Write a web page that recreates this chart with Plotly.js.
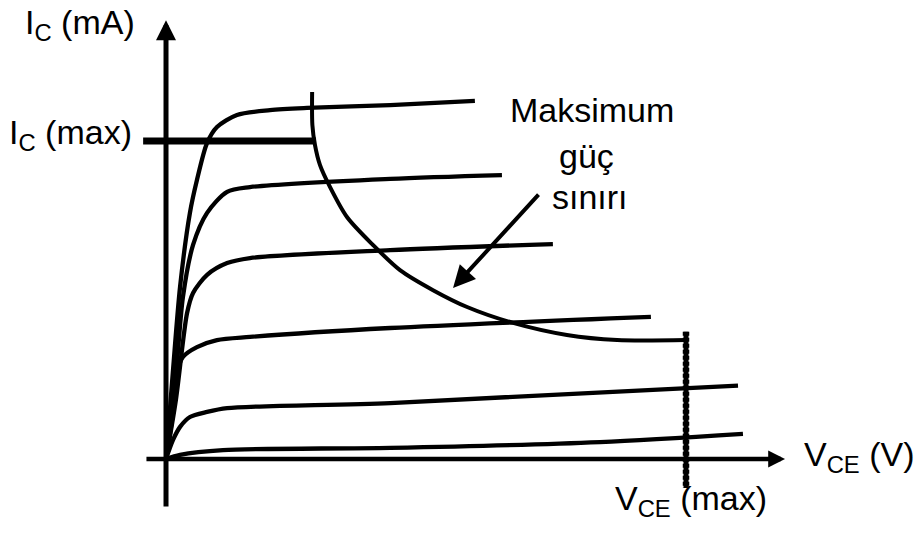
<!DOCTYPE html>
<html>
<head>
<meta charset="utf-8">
<script src="https://cdn.plot.ly/plotly-3.0.1.min.js"></script>
<style>html,body{margin:0;padding:0;background:#fff;}#chart{width:916px;height:537px;}</style>
</head>
<body>
<div id="chart"></div>
<script>
// Collector-characteristic curves (V_CE in V, I_C in mA)
const curve1V = [0, 0.27, 0.54, 0.92, 1.19, 1.58, 1.96, 2.73, 4.0, 5.42, 8.62, 11.88];
const curve1I = [0, 2.80, 5.41, 7.74, 8.77, 9.94, 10.44, 10.82, 10.97, 11.04, 11.13, 11.26];
const curve2V = [0, 0.35, 0.65, 1.04, 1.58, 2.35, 3.23, 8.62, 12.92];
const curve2I = [0, 2.33, 5.09, 6.73, 7.74, 8.40, 8.55, 8.81, 8.93];
const curve3V = [0, 0.38, 0.81, 1.04, 1.58, 2.35, 3.23, 8.62, 14.88];
const curve3I = [0, 1.86, 4.59, 5.22, 5.79, 6.16, 6.32, 6.57, 6.76];
const curve4V = [0, 0.23, 0.42, 0.65, 1.19, 1.96, 3.23, 8.62, 18.65];
const curve4I = [0, 1.23, 2.70, 3.21, 3.52, 3.74, 3.84, 4.12, 4.47];
const curve5V = [0, 0.27, 0.54, 0.92, 1.58, 2.35, 8.62, 22.0];
const curve5I = [0, 0.60, 1.01, 1.32, 1.48, 1.60, 1.76, 2.31];
const curve6V = [0, 0.54, 2.19, 8.62, 16.69, 22.19];
const curve6I = [0, 0.13, 0.28, 0.35, 0.53, 0.79];

// Maximum power limit curve
const powerV = [5.62, 5.63, 5.73, 5.92, 6.31, 6.96, 7.96, 9.0, 10.27, 11.58, 13.35, 15.42, 17.35, 20.0];
const powerI = [11.54, 10.50, 9.87, 9.25, 8.55, 7.61, 6.73, 5.94, 5.31, 4.78, 4.28, 3.90, 3.74, 3.74];

// Limits
const icMax = 10;
const icMaxLineV = [-0.88, 5.77];
const vceMax = 20;
const vceMaxLineI = [4.0, -0.91];

// Axes extents
const xAxisV = [-0.81, 23.81];
const yAxisI = [-1.54, 13.8];

// Labels
const labelIc = 'I<sub>C</sub>\u00a0(mA)';
const labelIcMax = 'I<sub>C</sub>\u00a0(max)';
const labelVce = 'V<sub>CE</sub>\u00a0(V)';
const labelVceMax = 'V<sub>CE</sub>\u00a0(max)';
const noteLines = ['Maksimum', 'güç', 'sınırı'];

const black = '#000';
const FONT = 'Liberation Sans, Arial, sans-serif';

const curveSets = [
  [curve1V, curve1I], [curve2V, curve2I], [curve3V, curve3I],
  [curve4V, curve4I], [curve5V, curve5I], [curve6V, curve6I]
];

const traces = curveSets.map(([v, i]) => ({
  x: v, y: i, mode: 'lines', type: 'scatter', hoverinfo: 'skip',
  line: {color: black, width: 4.3, shape: 'spline', smoothing: 0.8}
}));

traces.push({
  x: powerV, y: powerI, mode: 'lines', type: 'scatter', hoverinfo: 'skip',
  line: {color: black, width: 4, shape: 'spline', smoothing: 0.8}
});
traces.push({
  x: icMaxLineV, y: [icMax, icMax], mode: 'lines', type: 'scatter', hoverinfo: 'skip',
  line: {color: black, width: 7}
});
traces.push({
  x: [vceMax, vceMax], y: vceMaxLineI, mode: 'lines', type: 'scatter', hoverinfo: 'skip',
  line: {color: black, width: 5}
});
traces.push({
  x: [vceMax, vceMax], y: vceMaxLineI, mode: 'lines', type: 'scatter', hoverinfo: 'skip',
  line: {color: black, width: 6.5, dash: '4px,2px'}
});

const textFont = {family: FONT, size: 34, color: black};

const annotations = [
  // axes arrows
  {x: 0, y: yAxisI[1], ax: 0, ay: yAxisI[0], xref: 'x', yref: 'y', axref: 'x', ayref: 'y',
   text: '', showarrow: true, arrowhead: 2, arrowwidth: 5, arrowsize: 0.8, arrowcolor: black, standoff: 0, startstandoff: 0},
  {x: xAxisV[1], y: 0, ax: xAxisV[0], ay: 0, xref: 'x', yref: 'y', axref: 'x', ayref: 'y',
   text: '', showarrow: true, arrowhead: 2, arrowwidth: 4.5, arrowsize: 0.75, arrowcolor: black, standoff: 0, startstandoff: 0},
  // pointer arrow
  {x: 11.04, y: 5.38, ax: 14.38, ay: 8.36, xref: 'x', yref: 'y', axref: 'x', ayref: 'y',
   text: '', showarrow: true, arrowhead: 2, arrowwidth: 4, arrowsize: 1.1, arrowcolor: black, standoff: 0, startstandoff: 0},
  // labels
  {x: -5.5, y: 13.65, xref: 'x', yref: 'y', text: labelIc, showarrow: false, xanchor: 'left', yanchor: 'middle', font: textFont},
  {x: -6.12, y: 10.19, xref: 'x', yref: 'y', text: labelIcMax, showarrow: false, xanchor: 'left', yanchor: 'middle', font: textFont},
  {x: 24.46, y: 0.09, xref: 'x', yref: 'y', text: labelVce, showarrow: false, xanchor: 'left', yanchor: 'middle', font: textFont},
  {x: 17.19, y: -1.32, xref: 'x', yref: 'y', text: labelVceMax, showarrow: false, xanchor: 'left', yanchor: 'middle', font: textFont},
  {x: 16.38, y: 10.97, xref: 'x', yref: 'y', text: noteLines[0], showarrow: false, xanchor: 'center', yanchor: 'middle', font: textFont},
  {x: 16.19, y: 9.53, xref: 'x', yref: 'y', text: noteLines[1], showarrow: false, xanchor: 'center', yanchor: 'middle', font: textFont},
  {x: 16.31, y: 8.25, xref: 'x', yref: 'y', text: noteLines[2], showarrow: false, xanchor: 'center', yanchor: 'middle', font: textFont}
];

const layout = {
  width: 916, height: 537,
  margin: {l: 0, r: 0, t: 0, b: 0, pad: 0},
  paper_bgcolor: '#fff', plot_bgcolor: '#fff',
  showlegend: false,
  xaxis: {range: [-6.385, 28.846], visible: false, fixedrange: true},
  yaxis: {range: [-2.453, 14.434], visible: false, fixedrange: true},
  annotations: annotations
};

Plotly.newPlot('chart', traces, layout, {staticPlot: true, displayModeBar: false});
</script>
</body>
</html>
